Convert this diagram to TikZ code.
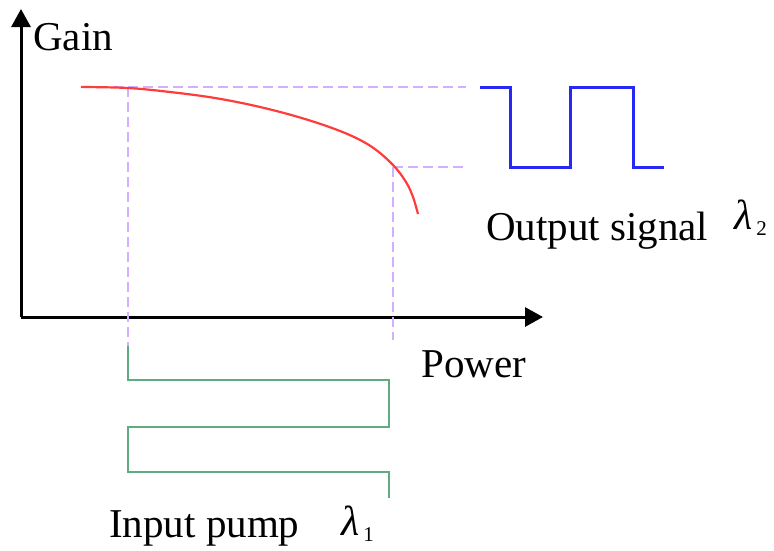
\documentclass[tikz,border=0pt]{standalone}
\usepackage{fontspec}
\setmainfont{Liberation Serif}
\usetikzlibrary{arrows.meta}
\definecolor{curvered}{RGB}{255,60,60}
\definecolor{sigblue}{RGB}{40,40,245}
\definecolor{pumpgreen}{RGB}{95,172,128}
\definecolor{guideviolet}{RGB}{212,175,255}
\newcommand{\lamsub}[1]{{\fontsize{42}{48}\selectfont\itshape λ}\hspace{4pt}\raisebox{-6pt}{\fontsize{21}{24}\selectfont #1}}
\tikzset{
  axisline/.style={line width=3pt,-{Triangle[length=18pt,width=19pt]}},
  guide/.style={guideviolet,line width=2.6pt,dash pattern=on 10pt off 5pt},
  sigline/.style={sigblue,line width=3pt},
  pumpline/.style={pumpgreen,line width=2.5pt},
  gaincurve/.style={curvered,line width=2.2pt},
  lbl/.style={font=\fontsize{41}{48}\selectfont,inner sep=0pt,anchor=base west},
  lam/.style={inner sep=0pt,anchor=base west}
}
\begin{document}
\begin{tikzpicture}[x=1pt,y=-1pt]
\useasboundingbox (0,0) rectangle (774,550);
% axes
\coordinate (O) at (21,317);
\coordinate (ytip) at (21,9);
\coordinate (xtip) at (543,317);
\draw[axisline] (O) -- (ytip);
\draw[axisline] (O) -- (xtip);
% guides
\draw[guide] (83,87) -- (466,87);
\draw[guide] (128,87) -- (128,346);
\draw[guide] (393,167) -- (465,167);
\draw[guide] (393,167) -- (393,340);
% gain curve
\draw[gaincurve] plot[smooth,tension=0.6] coordinates {(81,87) (128,88) (170,92) (215,98) (260,107) (305,119) (345,133) (372,147) (393,165) (406,182) (413,197) (418,214)};
% output signal
\draw[sigline] (480,87) -- (510,87) -- (510,167) -- (570,167) -- (570,87) -- (633,87) -- (633,167) -- (664,167);
% input pump
\draw[pumpline] (128,346) -- (128,380) -- (389,380) -- (389,427) -- (128,427) -- (128,472) -- (389,472) -- (389,498);
% labels
\node[lbl] (gain) at (33,50) {Gain};
\node[lbl] (power) at (421,377) {Power};
\node[lbl] (out) at (486,240) {Output signal};
\node[lam] (l2) at (734,229) {\lamsub{2}};
\node[lbl] (inp) at (109,537) {Input pump};
\node[lam] (l1) at (341,535) {\lamsub{1}};
\end{tikzpicture}
\end{document}
